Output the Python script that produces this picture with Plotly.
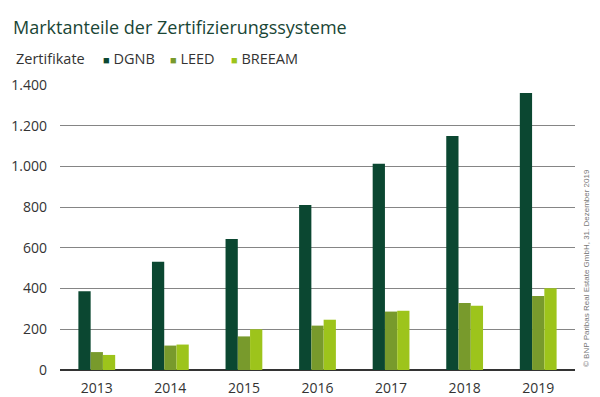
import plotly.graph_objects as go

years = ["2013", "2014", "2015", "2016", "2017", "2018", "2019"]
dgnb = [387, 532, 643, 810, 1013, 1150, 1361]
leed = [88, 120, 165, 218, 287, 329, 363]
breeam = [74, 125, 200, 247, 291, 316, 401]
series_names = ["DGNB", "LEED", "BREEAM"]
colors = ["#0b4731", "#789a2c", "#9dc41b"]
y_ticks = [0, 200, 400, 600, 800, 1000, 1200, 1400]

title_text = "Marktanteile der Zertifizierungssysteme"
legend_title = "Zertifikate"
source_text = "© BNP Paribas Real Estate GmbH, 31. Dezember 2019"

FONT = "Open Sans, Lato, sans-serif"
W, H = 600, 397
L, R, T, B = 60, 25, 85, 27
pw, ph = W - L - R, H - T - B

def px_x(x):
    return (x - L) / pw

def px_y(y):
    return (H - B - y) / ph

fig = go.Figure()
for name, vals, col in zip(series_names, [dgnb, leed, breeam], colors):
    fig.add_trace(go.Bar(x=years, y=vals, name=name, marker=dict(color=col, line=dict(width=0)),
                         showlegend=False))

annotations = [
    dict(text=title_text, x=px_x(11), y=px_y(27), xref="paper", yref="paper",
         xanchor="left", yanchor="middle", showarrow=False,
         font=dict(family=FONT, size=18, color="#1a4636")),
    dict(text=legend_title, x=px_x(14), y=px_y(59), xref="paper", yref="paper",
         xanchor="left", yanchor="middle", showarrow=False,
         font=dict(family=FONT, size=14.5, color="#333333")),
    dict(text=source_text, x=px_x(586), y=px_y(268), xref="paper", yref="paper",
         xanchor="center", yanchor="middle", showarrow=False, textangle=-90,
         font=dict(family="Liberation Sans, Arial, sans-serif", size=8, color="#777777")),
]
legend_x = [101, 168, 229]
for name, col, lx in zip(series_names, colors, legend_x):
    annotations.append(dict(
        text=f"<span style='color:{col};font-size:11px'>■</span> {name}", x=px_x(lx), y=px_y(59),
        xref="paper", yref="paper", xanchor="left", yanchor="middle", showarrow=False,
        font=dict(family=FONT, size=14.5, color="#333333")))

fig.update_layout(
    width=W, height=H,
    margin=dict(l=L, r=R, t=T, b=B, pad=0, autoexpand=False),
    paper_bgcolor="white", plot_bgcolor="white",
    barmode="group", bargap=0.5, bargroupgap=0,
    separators=",.",
    font=dict(family=FONT, color="#333333"),
    annotations=annotations,
    xaxis=dict(showgrid=False, showline=False, ticks="", ticklabelstandoff=8, automargin=False,
               tickfont=dict(size=14, color="#333333"), fixedrange=True),
    yaxis=dict(range=[0, 1400], tickvals=y_ticks, tickformat=",d", showgrid=True,
               gridcolor="#858585", gridwidth=1.2, zeroline=True, zerolinecolor="#333333",
               zerolinewidth=2, showline=False, ticks="", ticklabelstandoff=12, automargin=False,
               tickfont=dict(size=14, color="#333333"), fixedrange=True),
)

fig.write_html("out.html", config={"displayModeBar": False},
               post_script="document.body.style.margin='0';document.body.style.overflow='hidden';")
